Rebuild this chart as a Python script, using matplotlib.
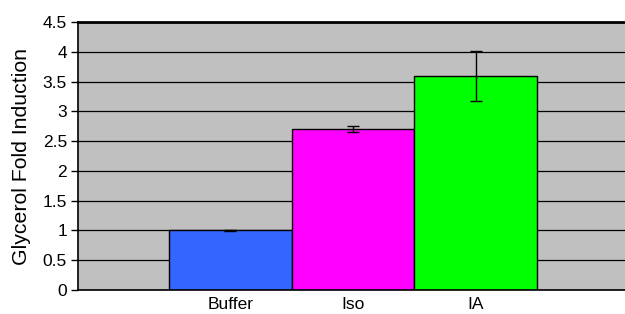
import numpy as np
import matplotlib.pyplot as plt

plt.rcParams['font.family'] = ['Liberation Sans', 'DejaVu Sans']

# Data
categories = ["Buffer", "Iso", "IA"]
values = [1.0, 2.70, 3.60]
errors = [0.01, 0.05, 0.42]
colors = ["#3366FF", "#FF00FF", "#00FF00"]

fig = plt.figure(figsize=(6.25, 3.14), dpi=100)
ax = fig.add_axes([0.1248, 0.0764, 0.8752, 0.8535])
ax.set_facecolor("#C0C0C0")

x = np.arange(len(categories))
ax.set_axisbelow(True)
ax.yaxis.grid(True, color="black", lw=0.9)
ax.bar(x, values, width=1.0, color=colors, edgecolor="black", lw=1, zorder=2)
ax.errorbar(x, values, yerr=errors, fmt="none", ecolor="black", elinewidth=1,
            capsize=4, capthick=1, zorder=3)

ax.set_xlim(-1.242, 3.217)
ax.set_ylim(0, 4.5)
ax.set_yticks(np.arange(0, 4.51, 0.5))
ax.set_yticklabels(["0", "0.5", "1", "1.5", "2", "2.5", "3", "3.5", "4", "4.5"])
ax.set_xticks(x)
ax.set_xticklabels(categories)
ax.tick_params(axis="x", length=0, labelsize=12.5, pad=5)
ax.tick_params(axis="y", length=5, labelsize=12.5, width=1, pad=3)
ax.set_ylabel("Glycerol Fold Induction", fontsize=15.3, labelpad=8)

ax.spines["top"].set_linewidth(2)
ax.spines["bottom"].set_linewidth(1.2)
ax.spines["left"].set_linewidth(1.2)
ax.spines["right"].set_visible(False)

fig.savefig("out.png", dpi=100)
